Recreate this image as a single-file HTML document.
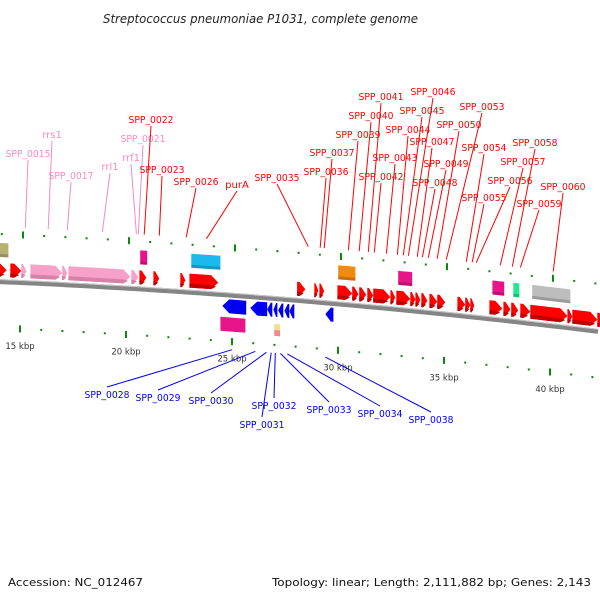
<!DOCTYPE html>
<html><head><meta charset="utf-8"><style>
html,body{margin:0;padding:0;background:#fff;}
svg{display:block;font-family:"DejaVu Sans","Liberation Sans",sans-serif;}
</style></head><body>
<svg id="chart" width="600" height="600" viewBox="0 0 600 600" xmlns="http://www.w3.org/2000/svg">
<text x="103" y="23" font-size="12.5" font-style="italic" fill="#222" textLength="315" lengthAdjust="spacingAndGlyphs">Streptococcus pneumoniae P1031, complete genome</text>
<text x="8" y="586" font-size="11" fill="#111" textLength="135" lengthAdjust="spacingAndGlyphs">Accession: NC_012467</text>
<text x="272" y="586" font-size="11" fill="#111" textLength="319" lengthAdjust="spacingAndGlyphs">Topology: linear; Length: 2,111,882 bp; Genes: 2,143</text>
<g id="layer"></g>
</svg>
<script>
// ---- data (kbp) ----
const fwdStart = [13.7,14.47,14.99,15.42,16.92,17.21,20.18,20.56,21.22,22.49,22.92,28.0,28.81,29.05,29.9,30.6,30.93,31.31,31.59,32.4,32.68,33.34,33.58,33.86,34.24,34.61,35.56,35.93,36.17,37.07,37.73,38.1,38.53,39.0,40.75,40.98,42.16];
const fwdEnd   = [14.3,14.99,15.23,16.92,17.16,20.13,20.51,20.89,21.5,22.73,24.28,28.39,29.0,29.28,30.6,30.89,31.26,31.59,32.4,32.63,33.34,33.58,33.81,34.14,34.61,34.99,35.93,36.17,36.36,37.68,38.06,38.43,39.0,40.75,40.98,42.16,42.5];
const fwdType  = ['r','r','p','p','p','p','p','r','r','r','r','r','r','r','r','r','r','r','r','r','r','r','r','r','r','r','r','r','r','r','r','r','r','r','r','r','r'];
const revStart = [24.47,25.79,26.59,26.88,27.11,27.4,27.63,29.33];
const revEnd   = [25.6,26.59,26.83,27.07,27.35,27.63,27.87,29.71];
const upBoxStart = [13.7,20.6,23.01,29.94,32.77,37.21,38.2,39.09];
const upBoxEnd   = [14.38,20.93,24.38,30.75,33.43,37.77,38.48,40.89];
const upBoxColor = ['#b8b070','#e8148a','#1cb8ee','#f28a10','#e8148a','#e8148a','#22e890','#bdbdbd'];
const lowBoxStart = [24.38,26.92];
const lowBoxEnd   = [25.56,27.2];
const lowBoxColor = ['#e8148a','#f0e090'];
const tickMin = 13, tickMax = 43;
const upNames = ['SPP_0015','rrs1','SPP_0017','rrl1','rrf1','SPP_0021','SPP_0022','SPP_0023','SPP_0026','purA','SPP_0035','SPP_0036','SPP_0037','SPP_0039','SPP_0040','SPP_0041','SPP_0042','SPP_0043','SPP_0044','SPP_0045','SPP_0046','SPP_0047','SPP_0048','SPP_0049','SPP_0050','SPP_0053','SPP_0054','SPP_0055','SPP_0056','SPP_0057','SPP_0058','SPP_0059','SPP_0060'];
const upPink  = [1,1,1,1,1,1,0,0,0,0,0,0,0,0,0,0,0,0,0,0,0,0,0,0,0,0,0,0,0,0,0,0,0];
const upKbp   = [15.18,16.26,17.16,18.81,20.42,20.51,20.79,21.5,22.77,23.72,28.53,29.09,29.28,30.42,30.93,31.36,31.64,32.21,32.73,33.01,33.25,33.67,33.91,34.19,34.61,35.04,35.98,36.26,36.45,37.58,38.15,38.53,40.08];
const upLx = [28,52,71,110,131,143,151,162,196,237,277,326,332,358,371,381,381,395,408,422,433,432,435,446,459,482,484,484,510,523,535,539,563];
const upLy = [153,134,175,166,157,138,119,169,181,184,177,171,152,134,115,96,176,157,129,110,91,141,182,163,124,106,147,197,180,161,142,203,186];
const lowNames = ['SPP_0028','SPP_0029','SPP_0030','SPP_0031','SPP_0032','SPP_0033','SPP_0034','SPP_0038'];
const lowKbp = [24.94,26.03,26.55,26.78,26.97,27.21,27.54,29.33];
const lowLx = [107,158,211,262,274,329,380,431];
const lowLy = [394,397,400,424,405,409,413,419];

// ---- axes ----
const X = k => 21.5 + (k - 15) * 21.2;
const YB = x => 280 + 0.0433 * x + 6.67e-5 * x * x;
const NS = 'http://www.w3.org/2000/svg';
const layer = document.getElementById('layer');
function mk(tag, attrs){const e=document.createElementNS(NS,tag);for(const k in attrs)e.setAttribute(k,attrs[k]);layer.appendChild(e);return e;}
function band(x1,x2,off,h){
  const pts=[];const n=4;
  for(let i=0;i<=n;i++){const x=x1+(x2-x1)*i/n;pts.push([x,YB(x)+off]);}
  for(let i=n;i>=0;i--){const x=x1+(x2-x1)*i/n;pts.push([x,YB(x)+off+h]);}
  return pts.map(p=>p[0].toFixed(1)+','+p[1].toFixed(1)).join(' ');
}

let d='';for(let x=-2;x<=602;x+=10){d+=(x<0?'M':'L')+x+','+(YB(x)+1.6).toFixed(1);}
let e=mk('path',{d:d,stroke:'#858585','stroke-width':5,fill:'none'});


d='';for(let x=-2;x<=602;x+=10){d+=(x<0?'M':'L')+x+','+(YB(x)-0.4).toFixed(1);}
mk('path',{d:d,stroke:'#c8c8c8','stroke-width':1,fill:'none'});

for(let k=tickMin;k<=tickMax;k++){
  const major=k%5===0;
  [-46,48].forEach((off,j)=>{
    const x=X(k)+(j===0?1.5:-1.5), y=YB(x)+off;
    const t=mk('rect',{x:(x-1).toFixed(1),y:(y-(major?3.5:1)).toFixed(1),width:2,height:major?7:2,fill:'#0a8a0a'});
    
    
  });
  if(major){
    const x=X(k)-1.5;
    const t=mk('text',{x:x.toFixed(1),y:(YB(x)+48+20).toFixed(1),'font-size':8.5,fill:'#333','text-anchor':'middle'});
    t.textContent=k+' kbp';
    
    
  }
}

for(let i=0;i<fwdStart.length;i++){
  const x1=X(fwdStart[i]),x2=X(fwdEnd[i]);const len=x2-x1;const hd=Math.min(7,len*0.7);
  const red=fwdType[i]==='r';
  const top=-17,h=14;
  const xb=x2-hd;
  const pts=[[x1,YB(x1)+top],[xb,YB(xb)+top],[x2,YB(x2)+top+h/2],[xb,YB(xb)+top+h],[x1,YB(x1)+top+h]];
  const g=mk('polygon',{points:pts.map(p=>p[0].toFixed(1)+','+p[1].toFixed(1)).join(' '),fill:red?'#ff0000':'#f7a0c8'});
  
  
  const sh=[[x1,YB(x1)+top+h-4],[xb,YB(xb)+top+h-4],[x2-hd*0.3,YB(x2)+top+h-3],[xb,YB(xb)+top+h],[x1,YB(x1)+top+h]];
  mk('polygon',{points:sh.map(p=>p[0].toFixed(1)+','+p[1].toFixed(1)).join(' '),fill:red?'#c00000':'#d880a8'});
}
for(let i=0;i<revStart.length;i++){
  const x1=X(revStart[i]),x2=X(revEnd[i]);const len=x2-x1;const hd=Math.min(7,len*0.7);
  const top=6,h=14;const xb=x1+hd;
  const pts=[[x1,YB(x1)+top+h/2],[xb,YB(xb)+top],[x2,YB(x2)+top],[x2,YB(x2)+top+h],[xb,YB(xb)+top+h]];
  const g=mk('polygon',{points:pts.map(p=>p[0].toFixed(1)+','+p[1].toFixed(1)).join(' '),fill:'#0000f0'});
  
  
}
for(let i=0;i<upBoxStart.length;i++){
  const b=mk('polygon',{points:band(X(upBoxStart[i]),X(upBoxEnd[i]),-37,14),fill:upBoxColor[i]});
  
  
  mk('polygon',{points:band(X(upBoxStart[i]),X(upBoxEnd[i]),-26,3),fill:'#000','fill-opacity':0.18});
}
for(let i=0;i<lowBoxStart.length;i++){
  const off=i===0?24:27;
  const b=mk('polygon',{points:band(X(lowBoxStart[i]),X(lowBoxEnd[i]),off,i===0?14:6),fill:lowBoxColor[i]});
  
  
  if(i===1){const p=mk('polygon',{points:band(X(lowBoxStart[i]),X(lowBoxEnd[i]),33,6),fill:'#f08a90'});
    
    }
}

function addLabel(txt,x,y,col){
  const t=mk('text',{x:x,y:y+4,'font-size':10,fill:col,'text-anchor':'middle'});
  if(txt.length===8){t.setAttribute('textLength',45);t.setAttribute('lengthAdjust','spacingAndGlyphs');}
  t.textContent=txt;
  
  
}
for(let i=0;i<upNames.length;i++){
  const col=upPink[i]?'#f58cc0':'#ff0000';
  const ax=X(upKbp[i]);
  const l=mk('line',{x1:upLx[i],y1:upLy[i]+7,x2:ax.toFixed(1),y2:(YB(ax)-53).toFixed(1),stroke:col,'stroke-width':1});
  
  
  addLabel(upNames[i],upLx[i],upLy[i],col);
}
for(let i=0;i<lowNames.length;i++){
  const ax=X(lowKbp[i]);
  const l=mk('line',{x1:ax.toFixed(1),y1:(YB(ax)+56).toFixed(1),x2:lowLx[i],y2:lowLy[i]-7,stroke:'#0000f0','stroke-width':1});
  
  
  addLabel(lowNames[i],lowLx[i],lowLy[i],'#0000f0');
}
</script>
</body></html>
